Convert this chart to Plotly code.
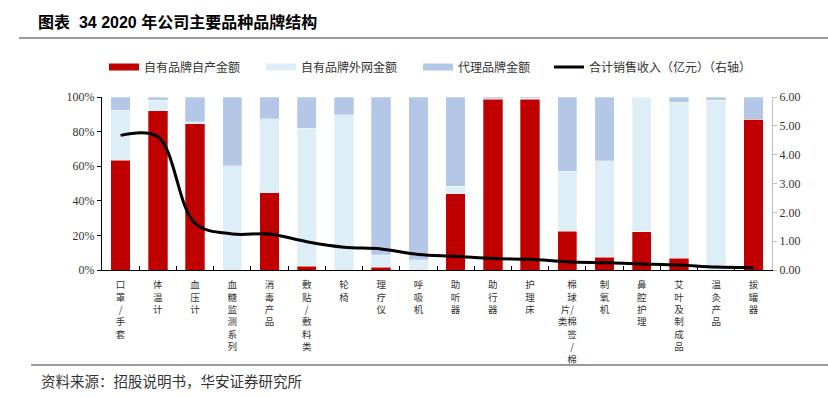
import plotly.graph_objects as go

categories = ["口罩/手套", "体温计", "血压计", "血糖监测系列", "消毒产品", "敷贴/敷料类",
              "轮椅", "理疗仪", "呼吸机", "助听器", "助行器", "护理床",
              "棉球/棉签/棉片类", "制氧机", "鼻腔护理", "艾叶及制成品", "温灸产品", "拔罐器"]

own_made = [63.3, 92.0, 84.5, 0.0, 44.6, 2.3, 0.0, 1.7, 0.0, 44.0, 98.7, 98.7,
            22.5, 7.5, 22.0, 6.9, 0.0, 87.2]
own_outsourced = [29.0, 6.0, 1.3, 60.4, 42.9, 79.5, 89.6, 7.0, 5.8, 4.5, 0.3, 0.7,
                  34.6, 55.6, 78.0, 90.0, 98.0, 0.0]
agency = [7.7, 2.0, 14.2, 39.6, 12.5, 18.2, 10.4, 91.3, 94.2, 51.5, 1.0, 0.6,
          42.9, 36.9, 0.0, 3.1, 2.0, 12.8]
revenue = [4.67, 4.62, 1.62, 1.25, 1.25, 0.98, 0.79, 0.73, 0.54, 0.48, 0.40, 0.37,
           0.29, 0.25, 0.21, 0.17, 0.10, 0.08]

series_names = ["自有品牌自产金额", "自有品牌外网金额", "代理品牌金额", "合计销售收入（亿元）（右轴）"]

left_ticks = [0, 20, 40, 60, 80, 100]
left_ticktext = ["0%", "20%", "40%", "60%", "80%", "100%"]
right_ticks = [0, 1, 2, 3, 4, 5, 6]

title_text = "图表  34 2020 年公司主要品种品牌结构"
source_text = "资料来源：招股说明书，华安证券研究所"

special_labels = {"棉球/棉签/棉片类": ["\u3000棉", "\u3000球", "片/", "类棉", "\u3000签", "\u3000/", "\u3000棉"]}


def vlabel(name):
    if name in special_labels:
        return "<br>".join(special_labels[name])
    return "<br>".join(list(name))


ticktext = [vlabel(c) for c in categories]

W, H = 828, 397
L, R, T, B = 102, 772, 97, 270
pw, ph = R - L, B - T


def px(x):
    return (x - L) / pw


def py(y):
    return (B - y) / ph


CJK = "Noto Sans CJK SC"
SERIF = "Liberation Serif, Noto Sans CJK SC"

fig = go.Figure()
colors = ["#C00000", "#DEEEF6", "#B4C7E7"]
legend_widths = [112, 112, 86, 175]
for vals, name, col, lw in zip([own_made, own_outsourced, agency], series_names[:3], colors, legend_widths):
    fig.add_trace(go.Bar(x=categories, y=vals, name=name, showlegend=False, legendgroup=name,
                         marker=dict(color=col, line=dict(color="rgba(255,255,255,0.6)", width=0.5))))
    # legend entry styled as a flat bar swatch like the reference
    fig.add_trace(go.Scatter(x=[None], y=[None], name=name, legendgroup=name, mode="lines",
                             legendwidth=lw, line=dict(color=col, width=7)))

fig.add_trace(go.Scatter(x=categories, y=revenue, name=series_names[3], yaxis="y2",
                         legendwidth=legend_widths[3],
                         mode="lines", line=dict(color="#000000", width=3, shape="spline", smoothing=1.0)))

fig.update_layout(
    width=W, height=H,
    margin=dict(l=L, r=W - R, t=T, b=H - B, autoexpand=False),
    paper_bgcolor="white", plot_bgcolor="white",
    barmode="stack", bargap=0.48,
    font=dict(family=CJK, size=11, color="#333333"),
    title=dict(text=title_text, xref="container", yref="container",
               x=38 / W, xanchor="left", y=1 - 22 / H, yanchor="middle",
               font=dict(family="Liberation Sans, Noto Sans CJK SC", size=16, color="#000000", weight="bold")),
    showlegend=True,
    legend=dict(orientation="h", x=px(104), xanchor="left", y=py(67), yanchor="middle",
                font=dict(family=CJK, size=12, color="#333333"),
                itemwidth=30, traceorder="normal", bgcolor="rgba(0,0,0,0)"),
    xaxis=dict(type="category", showline=True, linecolor="#000000", linewidth=1,
               ticks="inside", tickson="boundaries", ticklen=4, tickcolor="#000000",
               tickvals=categories, ticktext=ticktext, tickangle=0, ticklabelstandoff=6,
               tickfont=dict(family=CJK, size=9.5, color="#333333"),
               showgrid=False, zeroline=False, mirror=False),
    yaxis=dict(range=[0, 100], tickvals=left_ticks, ticktext=left_ticktext,
               showline=True, linecolor="#000000", linewidth=1,
               ticks="outside", ticklen=4, tickcolor="#000000",
               tickfont=dict(family=SERIF, size=12, color="#333333"),
               showgrid=False, zeroline=False),
    yaxis2=dict(range=[0, 6], tickvals=right_ticks, tickformat=".2f", overlaying="y", side="right",
                showline=True, linecolor="#BFBFBF", linewidth=1,
                ticks="outside", ticklen=4, tickcolor="#BFBFBF",
                tickfont=dict(family=SERIF, size=12, color="#333333"),
                showgrid=False, zeroline=False),
)

# header and footer rules
fig.add_shape(type="line", xref="paper", yref="paper", x0=px(19), x1=px(828), y0=py(38), y1=py(38),
              line=dict(color="#9A9A9A", width=2))
fig.add_shape(type="line", xref="paper", yref="paper", x0=px(31), x1=px(828), y0=py(365), y1=py(365),
              line=dict(color="#9A9A9A", width=2))

fig.add_annotation(text=source_text, xref="paper", yref="paper", x=px(39), y=py(380),
                   xanchor="left", yanchor="middle", showarrow=False,
                   font=dict(family=CJK, size=14.5, color="#333333"))

fig.write_html("out.html", config={"displayModeBar": False},
               post_script="document.body.style.margin='0px';document.body.style.overflow='hidden';")
